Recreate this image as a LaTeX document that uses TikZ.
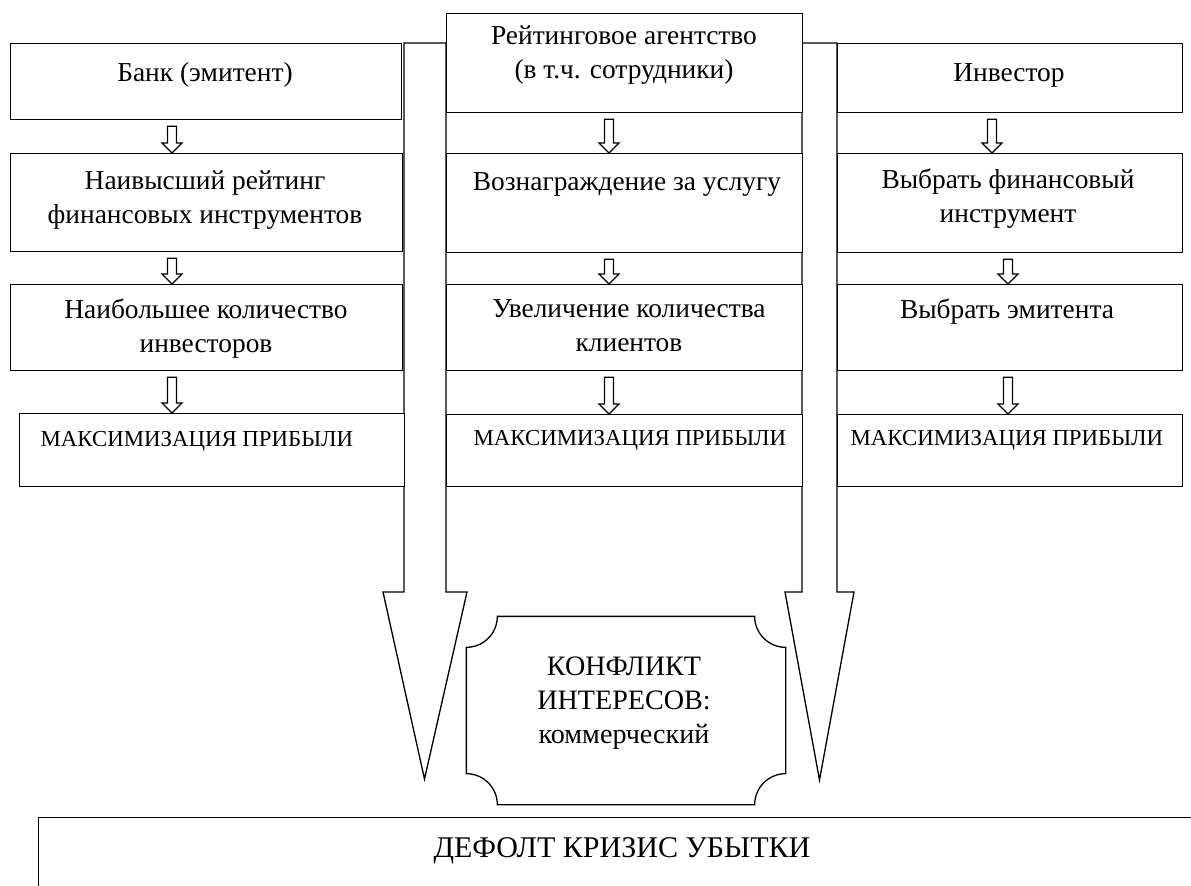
\documentclass[tikz,border=0pt]{standalone}
\usepackage{fontspec}
\setmainfont{Liberation Serif}
\usetikzlibrary{calc}

\newcommand{\pxu}{0.02cm}
% hollow block arrow between two boxes
\newcommand{\hollowarrow}[2]{%
  \draw[smallarrow] let \p1=#1, \p2=#2 in
    (\x1-0.09cm,\y1-0.12cm) -- (\x1+0.09cm,\y1-0.12cm) -- (\x1+0.09cm,\y2+0.2cm)
    -- (\x1+0.2cm,\y2+0.2cm) -- (\x1,\y2) -- (\x1-0.2cm,\y2+0.2cm)
    -- (\x1-0.09cm,\y2+0.2cm) -- cycle;}

\begin{document}
\begin{tikzpicture}[x=0.02cm, y=-0.02cm,
            line width=0.75pt,
            frame/.style={draw, fill=white, inner sep=0pt, anchor=north west}, % empty box
            size/.style 2 args={minimum width=#1*\pxu, minimum height=#2*\pxu},
            txt/.style={font=\fontsize{15.6pt}{19.3pt}\selectfont, align=center, inner sep=0pt, anchor=base},
            captxt/.style={font=\fontsize{13pt}{16pt}\selectfont, inner sep=0pt, anchor=base west},
            bigtxt/.style={font=\fontsize{17.1pt}{21pt}\selectfont, inner sep=0pt, anchor=base},
            smallarrow/.style={draw, fill=white},
            bigarrow/.style={draw, fill=white}
            ]
        \useasboundingbox (0,0) rectangle (1191,886);
        \clip (0,0) rectangle (1191,886);

        % the two wide arrows
        \draw[bigarrow] (404,43) -- (446,43) -- (446,592) -- (467,592) -- (424.5,779) -- (383,592) -- (404,592) -- cycle;
        \draw[bigarrow] (802,43) -- (837,43) -- (837,592) -- (854,592) -- (819.5,780) -- (785,592) -- (802,592) -- cycle;

        % column x of the small arrows
        \coordinate (lx) at (172,0);
        \coordinate (mx) at (609,0);
        \coordinate (rxa) at (992,0);
        \coordinate (rx) at (1008,0);

        % bank
        \node[frame, size={391}{76}] (l1) at (10,43) {};
        \node[frame, size={392}{98}] (l2) at (10,153) {};
        \node[frame, size={392}{86}] (l3) at (10,284) {};
        \node[frame, size={385}{73}] (l4) at (19,413) {};
        \node[txt] (l1t) at (205,81) {Банк (эмитент)};
        \node[txt] (l2t) at (205,223) {Наивысший рейтинг\\финансовых инструментов};
        \node[txt] (l3t) at (206,352) {Наибольшее количество\\инвесторов};
        \node[captxt] (l4t) at (40,446) {МАКСИМИЗАЦИЯ ПРИБЫЛИ};

        % rating agency
        \node[frame, size={356}{99}] (m1) at (446,13) {};
        \node[frame, size={356}{99}] (m2) at (446,153) {};
        \node[frame, size={356}{86}] (m3) at (446,284) {};
        \node[frame, size={356}{72}] (m4) at (446,414) {};
        \node[txt] (m1t) at (624,78) {Рейтинговое агентство\\(в т.ч. сотрудники)};
        \node[txt] (m2t) at (627,190) {Вознаграждение за услугу};
        \node[txt] (m3t) at (629,351) {Увеличение количества\\клиентов};
        \node[captxt] (m4t) at (473,445) {МАКСИМИЗАЦИЯ ПРИБЫЛИ};

        % investor
        \node[frame, size={345}{69}] (r1) at (837,43) {};
        \node[frame, size={345}{99}] (r2) at (837,153) {};
        \node[frame, size={345}{86}] (r3) at (837,284) {};
        \node[frame, size={345}{72}] (r4) at (837,414) {};
        \node[txt] (r1t) at (1009,81) {Инвестор};
        \node[txt] (r2t) at (1008,222) {Выбрать финансовый\\инструмент};
        \node[txt] (r3t) at (1007,318) {Выбрать эмитента};
        \node[captxt] (r4t) at (850,445) {МАКСИМИЗАЦИЯ ПРИБЫЛИ};

        % small arrows
        \hollowarrow{(l1.south -| lx)}{(l2.north -| lx)}
        \hollowarrow{(l2.south -| lx)}{(l3.north -| lx)}
        \hollowarrow{(l3.south -| lx)}{(l4.north -| lx)}
        \hollowarrow{(m1.south -| mx)}{(m2.north -| mx)}
        \hollowarrow{(m2.south -| mx)}{(m3.north -| mx)}
        \hollowarrow{(m3.south -| mx)}{(m4.north -| mx)}
        \hollowarrow{(r1.south -| rxa)}{(r2.north -| rxa)}
        \hollowarrow{(r2.south -| rx)}{(r3.north -| rx)}
        \hollowarrow{(r3.south -| rx)}{(r4.north -| rx)}

        % conflict plaque
        \node[inner sep=0pt, size={318}{187}] (conflict) at (626,710.5) {};
        \draw ([xshift=0.62cm]conflict.north west) -- ([xshift=-0.62cm]conflict.north east)
            arc[start angle=180, end angle=270, radius=0.62cm]
            -- ([yshift=0.62cm]conflict.south east)
            arc[start angle=90, end angle=180, radius=0.62cm]
            -- ([xshift=0.62cm]conflict.south west)
            arc[start angle=0, end angle=90, radius=0.62cm]
            -- ([yshift=-0.62cm]conflict.north west)
            arc[start angle=270, end angle=360, radius=0.62cm] -- cycle;
        \node[txt, font=\fontsize{16pt}{19.3pt}\selectfont] (conflictt) at (624,743) {КОНФЛИКТ\\ИНТЕРЕСОВ:\\коммерческий};

        % bottom box
        \node[frame, size={1200}{120}] (crisis) at (38,817) {};
        \node[bigtxt] (crisist) at (622,857) {ДЕФОЛТ КРИЗИС УБЫТКИ};
\end{tikzpicture}
\end{document}
